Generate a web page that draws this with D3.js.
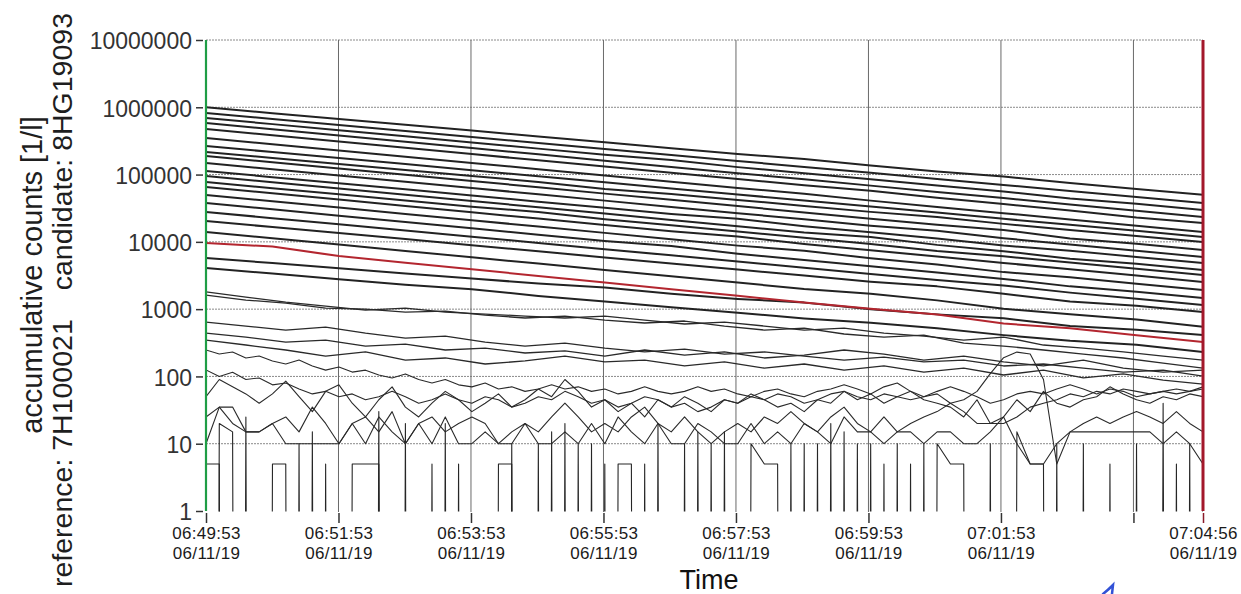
<!DOCTYPE html>
<html><head><meta charset="utf-8">
<script src="https://cdn.jsdelivr.net/npm/d3@7"></script>
<style>
html,body{margin:0;padding:0;background:#fff;}
svg{display:block;}
</style></head><body>
<svg id="chart" width="1241" height="594"></svg>
<script>
// ---------------- DATA ----------------
const dateLabel = "06/11/19";
const startTime = "06:49:53";
const endTime = "07:04:56";
const sampleCount = 76;               // samples from start to end
const xTicks = ["06:49:53","06:51:53","06:53:53","06:55:53","06:57:53","06:59:53","07:01:53","07:03:53","07:04:56"];
const xTicksUnlabelled = ["07:03:53"];
const yTicks = [1,10,100,1000,10000,100000,1000000,10000000];
const yTitle = "accumulative counts [1/l]";
const refLabel = "reference: 7H100021";
const candLabel = "candidate: 8HG19093";
const xTitle = "Time";

// upper channels, one value every 5th sample
const upperStep = 5;
const upperCounts = [
 [1000000,818000,671000,550000,450000,369000,302000,247000,203000,170000,136000,111000,93500,74700,61200,50100],
 [822000,670000,546000,445000,362000,295000,240000,195000,159000,130000,106000,86100,70100,57100,46600,37800],
 [693000,562000,456000,370000,300000,243000,197000,164000,129000,105000,85100,69000,56000,44000,36700,29800],
 [585000,472000,381000,308000,248000,200000,161000,130000,105000,84900,68500,55300,44700,36000,29000,23400],
 [476000,385000,310000,251000,202000,163000,132000,106000,85700,69200,57500,45100,36400,29300,23000,19100],
 [350000,282000,228000,184000,149000,120000,96600,78000,63000,52000,41000,33100,26700,21500,17400,14000],
 [266000,216000,176000,143000,116000,94400,76600,62200,50600,41100,33400,27200,22000,17900,14600,11800],
 [217000,177000,144000,117000,95500,77800,61000,51500,42000,34200,27900,23500,18500,15000,12200,9980],
 [189000,152000,123000,99300,80200,64700,52100,42100,34000,27400,22100,17900,15000,11200,9400,7590],
 [149000,120000,96800,78200,63100,50900,41000,33100,26700,21600,17400,14600,11300,9160,7400,5970],
 [113000,91600,74300,60300,48900,39600,32100,26000,22000,17100,13900,11200,8800,7400,5980,4850],
 [95300,76900,62100,50100,40500,32700,26300,21200,17100,13800,11800,9020,7280,5600,4730,3820],
 [77600,62800,50800,41100,33300,27800,21700,17600,14200,11500,9310,7300,6100,4920,3980,3220],
 [65500,52700,42500,34200,27500,22200,17800,14400,12000,9310,7500,6040,4860,3910,3150,2540],
 [49800,40100,32300,26000,20900,16900,13600,10900,8790,7400,5700,4590,3550,2970,2390,1930],
 [37800,30500,24500,19800,15900,12800,10300,8700,6680,5380,4340,3490,2810,2180,1820,1470],
 [27800,22500,18200,14700,11900,9640,7780,6300,5090,4120,3330,2700,2250,1760,1430,1150],
 [20400,16600,13500,11000,8910,7240,5870,4780,3880,3160,2560,2180,1690,1300,1120,908],
 [14000,11300,9100,7330,5900,4750,3820,3080,2480,2000,1700,1350,1010,838,700,545],
 [5770,4840,4060,3400,2860,2400,2100,1690,1420,1250,995,836,730,560,493,414],
 [4090,3380,2790,2300,1980,1570,1300,1070,883,729,630,520,411,339,295,231]
];
const redCounts = [9640,8500,6140,4900,3910,3120,2480,1980,1580,1260,1010,830,610,520,408,326];

// middle channels, one value every 3rd sample
const middleStep = 3;
const middleCounts = [
 [1800,1510,1275,1112,970,1038,906,846,789,738,789,689,601,643,561,489,524,441,398,347,385,293,264,231,201,175],
 [1620,1365,1232,1038,1003,906,937,817,738,789,689,622,666,561,489,524,427,385,412,313,283,247,215,188,158,133],
 [643,561,489,542,441,372,398,324,283,313,264,231,255,215,231,201,175,194,164,175,143,153,133,116,124,101],
 [441,385,324,347,283,303,247,264,223,239,201,247,208,231,188,208,247,215,175,201,164,143,175,133,116,124],
 [347,293,247,201,231,175,188,153,170,201,164,175,143,164,133,153,124,143,116,133,105,124,95,109,88,77]
];

// lower channels, every sample
const lowerCounts = [
 [247,215,231,188,201,170,153,175,143,124,138,116,124,105,95,109,90,80,90,75,70,80,65,70,60,65,75,65,70,60,65,55,60,70,60,55,60,70,60,65,55,50,60,65,55,50,60,65,75,65,55,70,80,60,50,60,70,60,50,40,45,55,60,55,65,75,65,55,65,60,50,55,60,55,60,65],
 [125,100,115,90,95,75,80,65,55,60,50,55,45,50,60,50,40,45,55,45,40,50,45,35,40,50,45,60,50,40,45,35,40,50,45,35,40,30,35,45,40,50,45,55,50,40,45,55,60,50,45,55,50,45,50,55,40,30,20,20,20,25,35,40,45,55,50,60,55,65,60,55,60,65,60,70],
 [50,90,70,55,40,55,85,50,30,60,75,40,25,45,70,35,25,40,60,45,30,40,55,35,45,65,50,90,60,35,45,30,40,25,45,35,50,40,30,45,40,55,45,35,40,30,45,40,60,45,55,40,50,60,45,40,35,25,45,20,25,45,30,60,40,35,45,50,70,55,45,40,50,45,55,50],
 [25,35,20,15,15,20,25,15,35,20,10,20,25,15,30,10,20,25,15,20,25,20,10,15,20,15,25,40,25,15,20,15,25,35,20,15,25,15,10,15,20,15,25,20,30,20,15,25,35,20,15,25,15,20,25,30,40,45,60,110,190,230,215,90,5,15,20,25,20,25,30,25,20,30,20,15],
 [10,35,35,15,15,20,10,10,10,10,10,20,10,25,15,10,20,10,25,10,10,15,10,10,20,10,10,15,10,20,10,25,15,10,20,10,10,20,15,10,10,20,10,15,10,20,15,10,25,15,15,10,15,15,10,15,15,10,10,15,25,10,5,5,10,15,15,15,15,15,15,15,10,15,10,5]
];
// near-zero channels (0 = no count)
const spikeCountsA = [5,5,0,25,0,5,5,0,15,0, 0,5,5,5,0,20,0,5,0,5, 0,0,5,5,0,10,0,20,0,10, 0,5,5,0,20,0,10,0,10,0, 0,10,5,5,0,10,0,20,0,10, 0,5,0,5,0,10,5,5,0,10, 0,15,5,5,0,0,10,0,5,0, 10,0,40,0,10,0];
const spikeCountsB = [0,20,15,0,0,0,0,10,0,5, 0,0,0,30,0,0,0,0,20,0, 0,0,0,10,0,0,15,0,10,0, 5,0,0,5,0,0,0,15,0,15, 0,0,0,0,10,0,10,0,15,0, 10,0,10,0,10,0,0,0,0,0, 0,0,0,0,10,0,0,0,0,0, 0,0,0,5,0,10];

// ---------------- CHART ----------------
const svg = d3.select("#chart");
const P = {left:206, right:1203, top:40, bottom:511};
const FONT = '"Liberation Sans", Arial, Helvetica, sans-serif';
const parseT = d3.timeParse("%m/%d/%y %H:%M:%S");
const t0 = parseT(dateLabel + " " + startTime);
const t1 = parseT(dateLabel + " " + endTime);
const x = d3.scaleTime().domain([t0, t1]).range([P.left, P.right]);
const y = d3.scaleLog().domain([1, 1e7]).range([P.bottom, P.top]);
const dt = (t1 - t0) / (sampleCount - 1);
const timeAt = i => new Date(+t0 + i * dt);
const tickDates = xTicks.map(s => parseT(dateLabel + " " + s));

svg.append("rect").attr("width",1241).attr("height",594).attr("fill","#fff");

// grid
const grid = svg.append("g");
grid.selectAll("line.h").data(yTicks.filter(v => v > 1)).join("line")
  .attr("x1", P.left).attr("x2", P.right)
  .attr("y1", d => y(d)).attr("y2", d => y(d))
  .attr("stroke", "#8a8a8a").attr("stroke-width", 1).attr("stroke-dasharray", "2,1");
grid.selectAll("line.v").data(tickDates.slice(1, -1)).join("line")
  .attr("x1", d => x(d)).attr("x2", d => x(d))
  .attr("y1", P.top).attr("y2", P.bottom + 1)
  .attr("stroke", "#6a6a6a").attr("stroke-width", 1);

// clip
svg.append("clipPath").attr("id","plotclip").append("rect")
  .attr("x", P.left).attr("y", P.top).attr("width", P.right - P.left).attr("height", P.bottom - P.top + 0.5);
const lines = svg.append("g").attr("clip-path","url(#plotclip)");

const mkLine = step => d3.line()
  .x((d, j) => x(timeAt(j * step)))
  .y(d => y(d > 0 ? d : 1e-60));

function drawGroup(data, step, color, width) {
  lines.append("g").selectAll("path").data(data).join("path")
    .attr("d", mkLine(step))
    .attr("fill", "none").attr("stroke", color).attr("stroke-width", width)
    .attr("stroke-linejoin", "round");
}
drawGroup([spikeCountsA, spikeCountsB], 1, "#262626", 1.1);
drawGroup(lowerCounts, 1, "#2a2a2a", 1.1);
drawGroup(middleCounts, middleStep, "#2a2a2a", 1.3);
drawGroup(upperCounts, upperStep, "#222", 2);
drawGroup([redCounts], upperStep, "#b3262f", 2);

// y axis
const yAxis = d3.axisLeft(y).tickValues(yTicks).tickFormat(d3.format("d")).tickSize(7).tickPadding(4);
svg.append("g").attr("transform", `translate(${P.left - 3},0)`).call(yAxis)
  .call(g => {
    g.select(".domain").remove();
    g.attr("font-family", FONT).attr("font-size", 23);
    g.selectAll("line").attr("stroke", "#333").attr("stroke-width", 1.5);
    g.selectAll("text").attr("fill", "#333").attr("dy", "0.38em");
  });

// x axis
const xAxis = d3.axisBottom(x).tickValues(tickDates).tickSize(10).tickFormat("");
svg.append("g").attr("transform", `translate(0,${P.bottom + 2})`).call(xAxis)
  .call(g => {
    g.select(".domain").remove();
    g.attr("font-family", FONT).attr("font-size", 17);
    g.selectAll(".tick line").attr("stroke", (d, i) => i === xTicks.length - 1 ? "#8a1a28" : "#333").attr("stroke-width", 1.5);
    g.selectAll(".tick").each(function(d, i) {
      const t = d3.select(this).select("text");
      t.attr("dy", null).attr("y", null).attr("fill", "#1a1a1a").attr("letter-spacing", "0.3px");
      if (xTicksUnlabelled.includes(xTicks[i])) return;
      t.append("tspan").attr("x", 0).attr("y", 26).text(xTicks[i]);
      t.append("tspan").attr("x", 0).attr("y", 46).text(dateLabel);
    });
  });

// plot edge markers
svg.append("line").attr("x1", P.left).attr("x2", P.left).attr("y1", P.top).attr("y2", P.bottom)
  .attr("stroke", "#1f9d45").attr("stroke-width", 2.2);
svg.append("line").attr("x1", P.right).attr("x2", P.right).attr("y1", P.top).attr("y2", P.bottom)
  .attr("stroke", "#a3182b").attr("stroke-width", 3);

// titles
svg.append("text").attr("transform", "translate(42,275) rotate(-90)").attr("text-anchor","middle")
  .attr("font-family", FONT).attr("font-size", 29).attr("fill","#1e1e1e").text(yTitle);
svg.append("text").attr("transform", "translate(72,587) rotate(-90)").attr("text-anchor","start")
  .attr("font-family", FONT).attr("font-size", 28.5).attr("fill","#1e1e1e").text(refLabel);
svg.append("text").attr("transform", "translate(72,13) rotate(-90)").attr("text-anchor","end")
  .attr("font-family", FONT).attr("font-size", 28.5).attr("fill","#1e1e1e").text(candLabel);
svg.append("text").attr("x", 709).attr("y", 589).attr("text-anchor","middle")
  .attr("font-family", FONT).attr("font-size", 27).attr("fill","#111").text(xTitle);

// handwritten blue mark at the bottom edge
svg.append("path").attr("d","M1103,594 Q1108,590 1113,585 L1112,594")
  .attr("fill","none").attr("stroke","#3352d6").attr("stroke-width",2.5).attr("stroke-linecap","round");
</script>
</body></html>
